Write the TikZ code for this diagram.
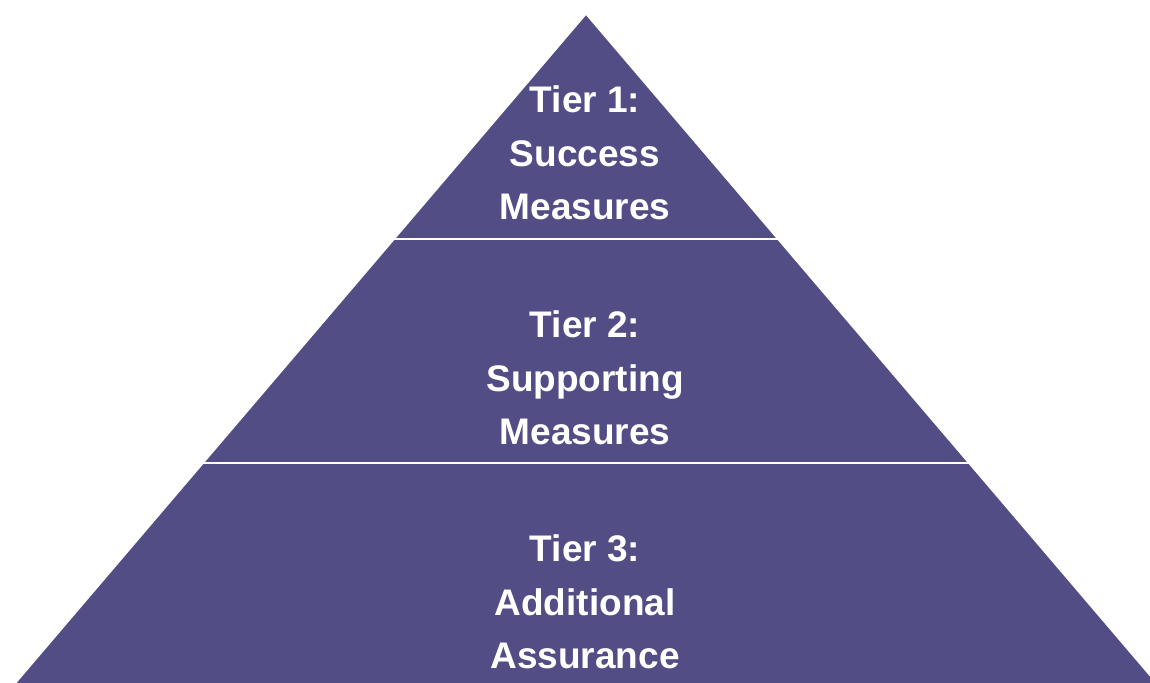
\documentclass[tikz,border=0pt]{standalone}
\usepackage{fontspec}
\setmainfont{Liberation Sans}
\usetikzlibrary{positioning,calc}
\definecolor{tierfill}{RGB}{82,78,133}

\begin{document}
\begin{tikzpicture}[x=1pt,y=-1pt,every node/.style={text=white,align=center,font=\fontsize{37}{53.5}\selectfont\bfseries}]
\useasboundingbox (0,0) rectangle (1150,682);
\clip (0,0) rectangle (1150,682);

\coordinate(top) at (586,14);
\coordinate(bl) at (1,700);
\coordinate(br) at (1171,700);

\fill[tierfill,draw=white,line width=1.5pt](top)--(bl)--(br)--cycle;

\foreach[count=\c] \y in {239,463}{
	\draw[white,line width=2pt]($(top)!{(\y-14)/686}!(bl)$)--($(top)!{(\y-14)/686}!(br)$);
}

\node(t1) at (585,153) {Tier 1:\\Success\\Measures};
\node(t2) at (585,378) {Tier 2:\\Supporting\\Measures};
\node(t3) at (585,602) {Tier 3:\\Additional\\Assurance};
\end{tikzpicture}
\end{document}
